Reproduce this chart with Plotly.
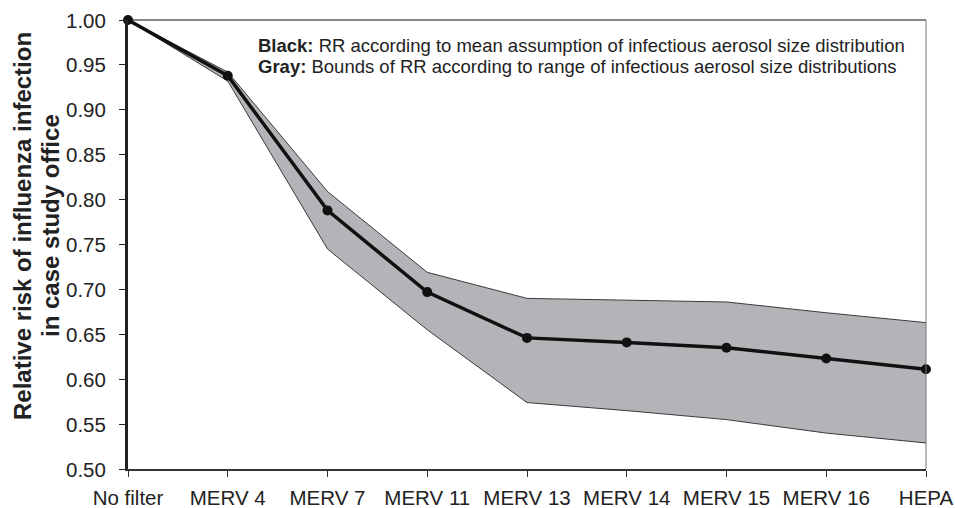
import plotly.graph_objects as go

categories = ["No filter", "MERV 4", "MERV 7", "MERV 11", "MERV 13",
              "MERV 14", "MERV 15", "MERV 16", "HEPA"]
rr_mean = [1.000, 0.938, 0.788, 0.697, 0.646, 0.641, 0.635, 0.623, 0.611]
rr_upper = [1.000, 0.942, 0.809, 0.719, 0.690, 0.688, 0.686, 0.674, 0.663]
rr_lower = [1.000, 0.932, 0.745, 0.655, 0.574, 0.565, 0.555, 0.540, 0.529]
y_ticks = [0.50, 0.55, 0.60, 0.65, 0.70, 0.75, 0.80, 0.85, 0.90, 0.95, 1.00]
title_lines = ["Relative risk of influenza infection", "in case study office"]
note_lines = [
    "<b>Black:</b> RR according to mean assumption of infectious aerosol size distribution",
    "<b>Gray:</b> Bounds of RR according to range of infectious aerosol size distributions",
]

xs = list(range(len(categories)))
FONT = "Liberation Sans, Arial, sans-serif"
TEXT = "#222222"
L, R, T, B = 128, 29, 20, 39
PLOT_W = 955 - L - R
PLOT_H = 508 - T - B


def px_to_paper_x(px):
    return (px - L) / PLOT_W


def px_to_paper_y(py):
    return (508 - B - py) / PLOT_H


fig = go.Figure()
fig.add_trace(go.Scatter(x=xs, y=rr_lower, mode="lines",
                         line=dict(color="#3a3a3a", width=1),
                         showlegend=False, hoverinfo="skip"))
fig.add_trace(go.Scatter(x=xs, y=rr_upper, mode="lines", fill="tonexty",
                         fillcolor="#b3b4b8",
                         line=dict(color="#3a3a3a", width=1),
                         showlegend=False, hoverinfo="skip"))
fig.add_trace(go.Scatter(x=xs, y=rr_mean, mode="lines+markers",
                         line=dict(color="#111111", width=3.5),
                         marker=dict(color="#111111", size=10),
                         cliponaxis=False, showlegend=False))

annotations = []
# y tick labels, set a little further from the axis than plotly's default
for v in y_ticks:
    annotations.append(dict(
        text=f"{v:.2f}", xref="paper", yref="y",
        x=px_to_paper_x(108), y=v, xanchor="right", yanchor="middle",
        showarrow=False, font=dict(size=20.5, family=FONT, color=TEXT)))
for line, px in zip(title_lines, [23, 51]):
    annotations.append(dict(
        text=f"<b>{line}</b>", xref="paper", yref="paper",
        x=px_to_paper_x(px), y=px_to_paper_y(226),
        xanchor="center", yanchor="middle", textangle=-90, showarrow=False,
        font=dict(size=24, family=FONT, color=TEXT)))
for line, py in zip(note_lines, [46, 66.5]):
    annotations.append(dict(
        text=line, xref="paper", yref="paper",
        x=px_to_paper_x(256), y=px_to_paper_y(py),
        xanchor="left", yanchor="middle", showarrow=False, align="left",
        font=dict(size=18.5, family=FONT, color=TEXT)))

fig.update_layout(
    width=955, height=508,
    margin=dict(l=L, r=R, t=T, b=B, autoexpand=False),
    paper_bgcolor="white", plot_bgcolor="white",
    font=dict(family=FONT, color=TEXT),
    xaxis=dict(range=[0, 8], tickvals=xs, ticktext=categories,
               showgrid=False, zeroline=False, automargin=False,
               showline=True, linecolor="#333333", linewidth=1.5,
               ticks="outside", ticklen=6, tickcolor="#333333",
               ticklabelstandoff=4,
               tickfont=dict(size=20.5, family=FONT, color=TEXT)),
    yaxis=dict(range=[0.5, 1.0], tickvals=y_ticks, showticklabels=False,
               showgrid=False, zeroline=False, automargin=False,
               showline=True, linecolor="#222222", linewidth=2.5,
               ticks="outside", ticklen=6, tickcolor="#222222"),
    shapes=[
        dict(type="line", xref="paper", yref="paper", x0=0, x1=1, y0=1, y1=1,
             line=dict(color="#111111", width=1)),
        dict(type="line", xref="paper", yref="paper", x0=1, x1=1, y0=0, y1=1,
             line=dict(color="#777777", width=1)),
    ],
    annotations=annotations,
)

fig.write_html("out.html")
